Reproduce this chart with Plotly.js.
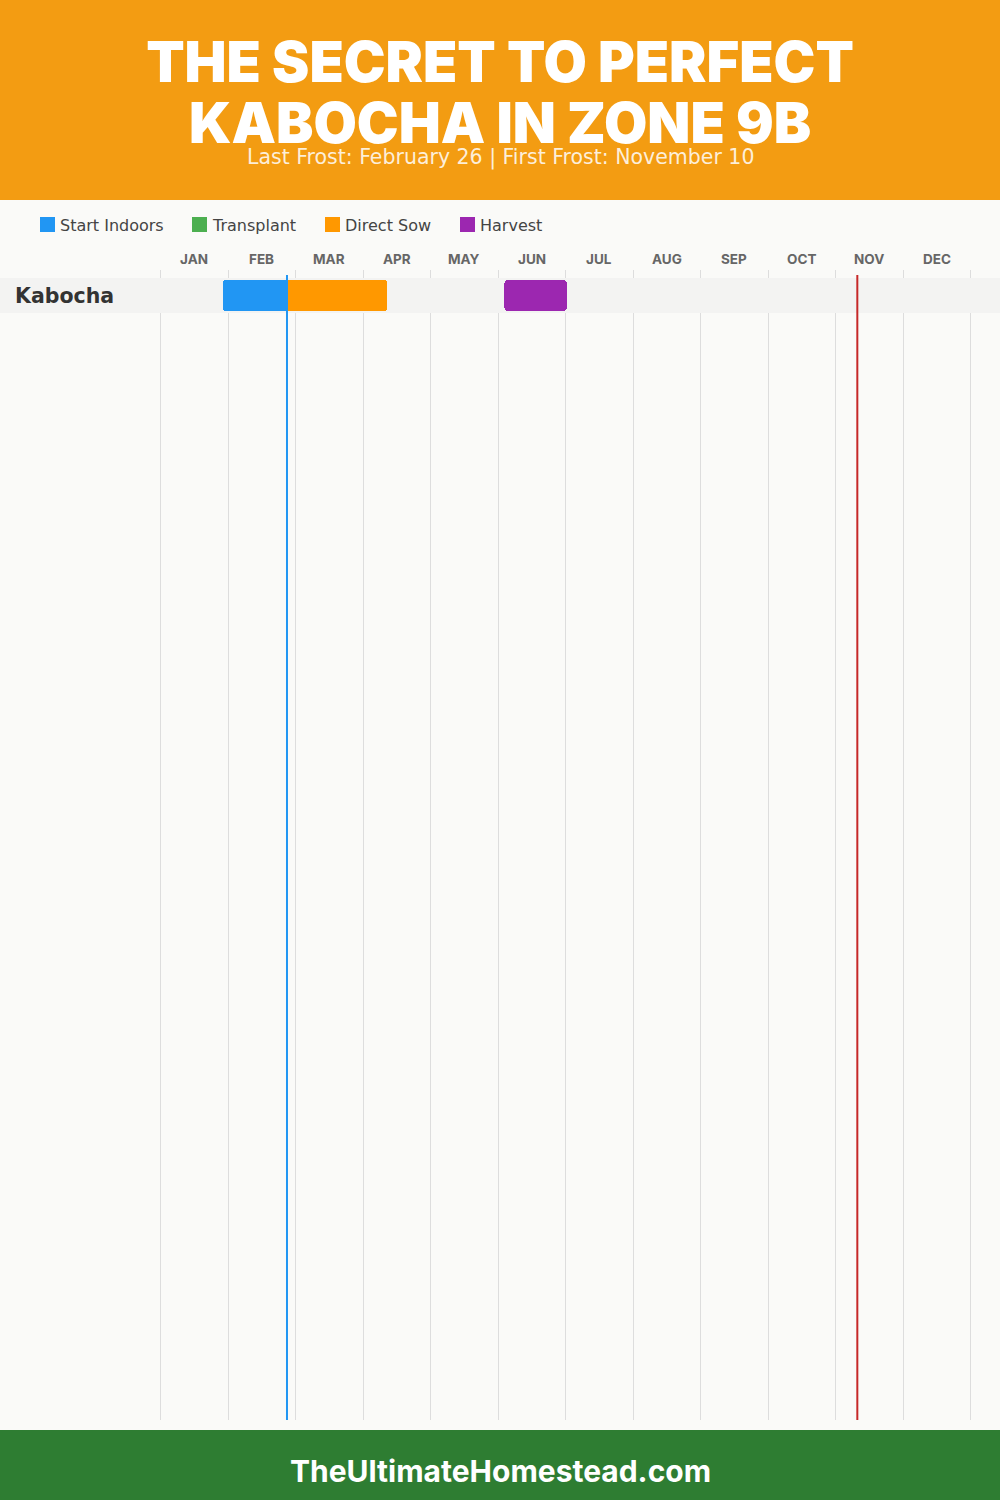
<!DOCTYPE html>
<html>
<head>
<meta charset="utf-8">
<script src="https://cdn.plot.ly/plotly-3.0.1.min.js"></script>
<style>html,body{margin:0;padding:0;background:#fafaf8;}#chart{width:1000px;height:1500px;}</style>
</head>
<body>
<div id="chart"></div>
<script>
// ---- data ----
const months = ['JAN','FEB','MAR','APR','MAY','JUN','JUL','AUG','SEP','OCT','NOV','DEC'];
const crops = ['Kabocha'];
const phaseNames = ['Start Indoors','Transplant','Direct Sow','Harvest'];
const startIndoorsStart = ['01-28'];
const startIndoorsEnd   = ['02-26'];
const transplantStart   = [];
const transplantEnd     = [];
const directSowStart    = ['02-26'];
const directSowEnd      = ['04-12'];
const harvestStart      = ['06-04'];
const harvestEnd        = ['07-02'];
const lastFrost  = '02-26';
const firstFrost = '11-10';
const titleLine1 = 'THE SECRET TO PERFECT';
const titleLine2 = 'KABOCHA IN ZONE 9B';
const subtitle = 'Last Frost: February 26 | First Frost: November 10';
const footer = 'TheUltimateHomestead.com';

// ---- helpers ----
const cum = [0,31,59,90,120,151,181,212,243,273,304,334];
function pos(md){ const [m,d] = md.split('-').map(Number); return (cum[m-1]+d)/365*12; }

const phaseColors = ['#2196f3','#4caf50','#ff9800','#9c27b0'];
const phaseData = [
  [startIndoorsStart, startIndoorsEnd],
  [transplantStart, transplantEnd],
  [directSowStart, directSowEnd],
  [harvestStart, harvestEnd]
];

const W = 1000, H = 1500;
const monthPx = 67.5, x0px = 160.5;
const xRange = [-x0px/monthPx, (W - x0px)/monthPx];
const plotTop = 270, plotBot = 1420, rowPx = 35, rowCenter = 295.5;
const yTop = -(rowCenter - plotTop)/rowPx;
const yBot = yTop + (plotBot - plotTop)/rowPx;
const HEAD = 'Inter, sans-serif';
const BODY = '"DejaVu Sans", sans-serif';

const traces = phaseData.map((pd, i) => {
  const starts = pd[0].map(pos), ends = pd[1].map(pos);
  return {
    type: 'bar', orientation: 'h', name: phaseNames[i],
    y: starts.map((s, k) => k),
    base: starts,
    x: ends.map((e, k) => e - starts[k]),
    width: 31/rowPx,
    marker: {color: phaseColors[i], cornerradius: 3, line: {width: 0}},
    hovertemplate: '%{fullData.name}<extra></extra>',
    showlegend: false
  };
});

const shapes = [
  {type:'rect', xref:'paper', yref:'paper', x0:0, x1:1, y0:1-200/H, y1:1, fillcolor:'#f39c12', line:{width:0}, layer:'below'},
  {type:'rect', xref:'paper', yref:'paper', x0:0, x1:1, y0:0, y1:70/H, fillcolor:'#2e7d32', line:{width:0}, layer:'below'}
];
crops.forEach((c, k) => {
  shapes.push({type:'rect', xref:'x', yref:'y', x0:xRange[0], x1:xRange[1], y0:k-0.5, y1:k+0.5, fillcolor:'#f3f3f2', line:{width:0}, layer:'between'});
});
shapes.push({type:'line', xref:'x', yref:'paper', x0:pos(lastFrost), x1:pos(lastFrost), y0:(H-plotBot)/H, y1:(H-275)/H, line:{color:'#2196f3', width:2}, layer:'above'});
shapes.push({type:'line', xref:'x', yref:'paper', x0:pos(firstFrost), x1:pos(firstFrost), y0:(H-plotBot)/H, y1:(H-275)/H, line:{color:'#c62828', width:2}, layer:'above'});

// legend (manual)
const legendX = [40, 192, 325, 460];
const annotations = [];
phaseNames.forEach((n, i) => {
  shapes.push({type:'rect', xref:'paper', yref:'paper', x0:legendX[i]/W, x1:(legendX[i]+15)/W, y0:1-232/H, y1:1-217/H, fillcolor:phaseColors[i], line:{width:0}, layer:'above'});
  annotations.push({xref:'paper', yref:'paper', x:(legendX[i]+18)/W, y:1-225/H, xanchor:'left', yanchor:'middle', text:n, showarrow:false, font:{family:BODY, size:16, color:'#444'}});
});
months.forEach((m, i) => {
  annotations.push({xref:'x', yref:'paper', x:i+0.5, y:1-259/H, xanchor:'center', yanchor:'middle', text:m, showarrow:false, font:{family:HEAD, size:13.5, color:'#666', weight:700}});
});
annotations.push({xref:'paper', yref:'paper', x:0.5, y:1-123/H, xanchor:'center', yanchor:'middle', text:titleLine2, showarrow:false, font:{family:HEAD, size:56, color:'#ffffff', weight:900}});
annotations.push({xref:'paper', yref:'paper', x:0.5, y:1-157/H, xanchor:'center', yanchor:'middle', text:subtitle, showarrow:false, font:{family:BODY, size:20.5, color:'rgba(255,255,255,0.85)'}});
annotations.push({xref:'paper', yref:'paper', x:0.5, y:1-1471/H, xanchor:'center', yanchor:'middle', text:footer, showarrow:false, font:{family:HEAD, size:30, color:'#ffffff', weight:700}});
crops.forEach((c, k) => {
  annotations.push({xref:'paper', yref:'y', x:13/W, y:k, xanchor:'left', yanchor:'middle', text:c, showarrow:false, font:{family:BODY, size:20.5, color:'#333', weight:700}});
});

const layout = {
  width: W, height: H,
  margin: {l:0, r:0, t:0, b:0, pad:0},
  paper_bgcolor: '#fafaf8', plot_bgcolor: '#fafaf8',
  title: {text: titleLine1, x:0.5, xanchor:'center', y:1-62/H, yanchor:'middle', font:{family:HEAD, size:56, color:'#ffffff', weight:900}},
  showlegend: false,
  barmode: 'overlay',
  bargap: 0,
  xaxis: {
    domain:[0,1], range: xRange, side:'top', fixedrange:true,
    tickmode:'array', tickvals: months.map((m,i)=>i+0.5), ticktext: months,
    showticklabels:false,
    ticks:'', showgrid:false, zeroline:false, showline:false,
    minor:{tickmode:'array', tickvals: months.concat(['']).map((m,i)=>i), showgrid:true, gridcolor:'#dddddd', gridwidth:1, ticks:''}
  },
  yaxis: {
    domain:[(H-plotBot)/H, (H-plotTop)/H], range:[yBot, yTop], fixedrange:true,
    showgrid:false, zeroline:false, showline:false, showticklabels:false, ticks:''
  },
  shapes: shapes,
  annotations: annotations
};

Plotly.newPlot('chart', traces, layout, {displayModeBar:false, staticPlot:true});
</script>
</body>
</html>
